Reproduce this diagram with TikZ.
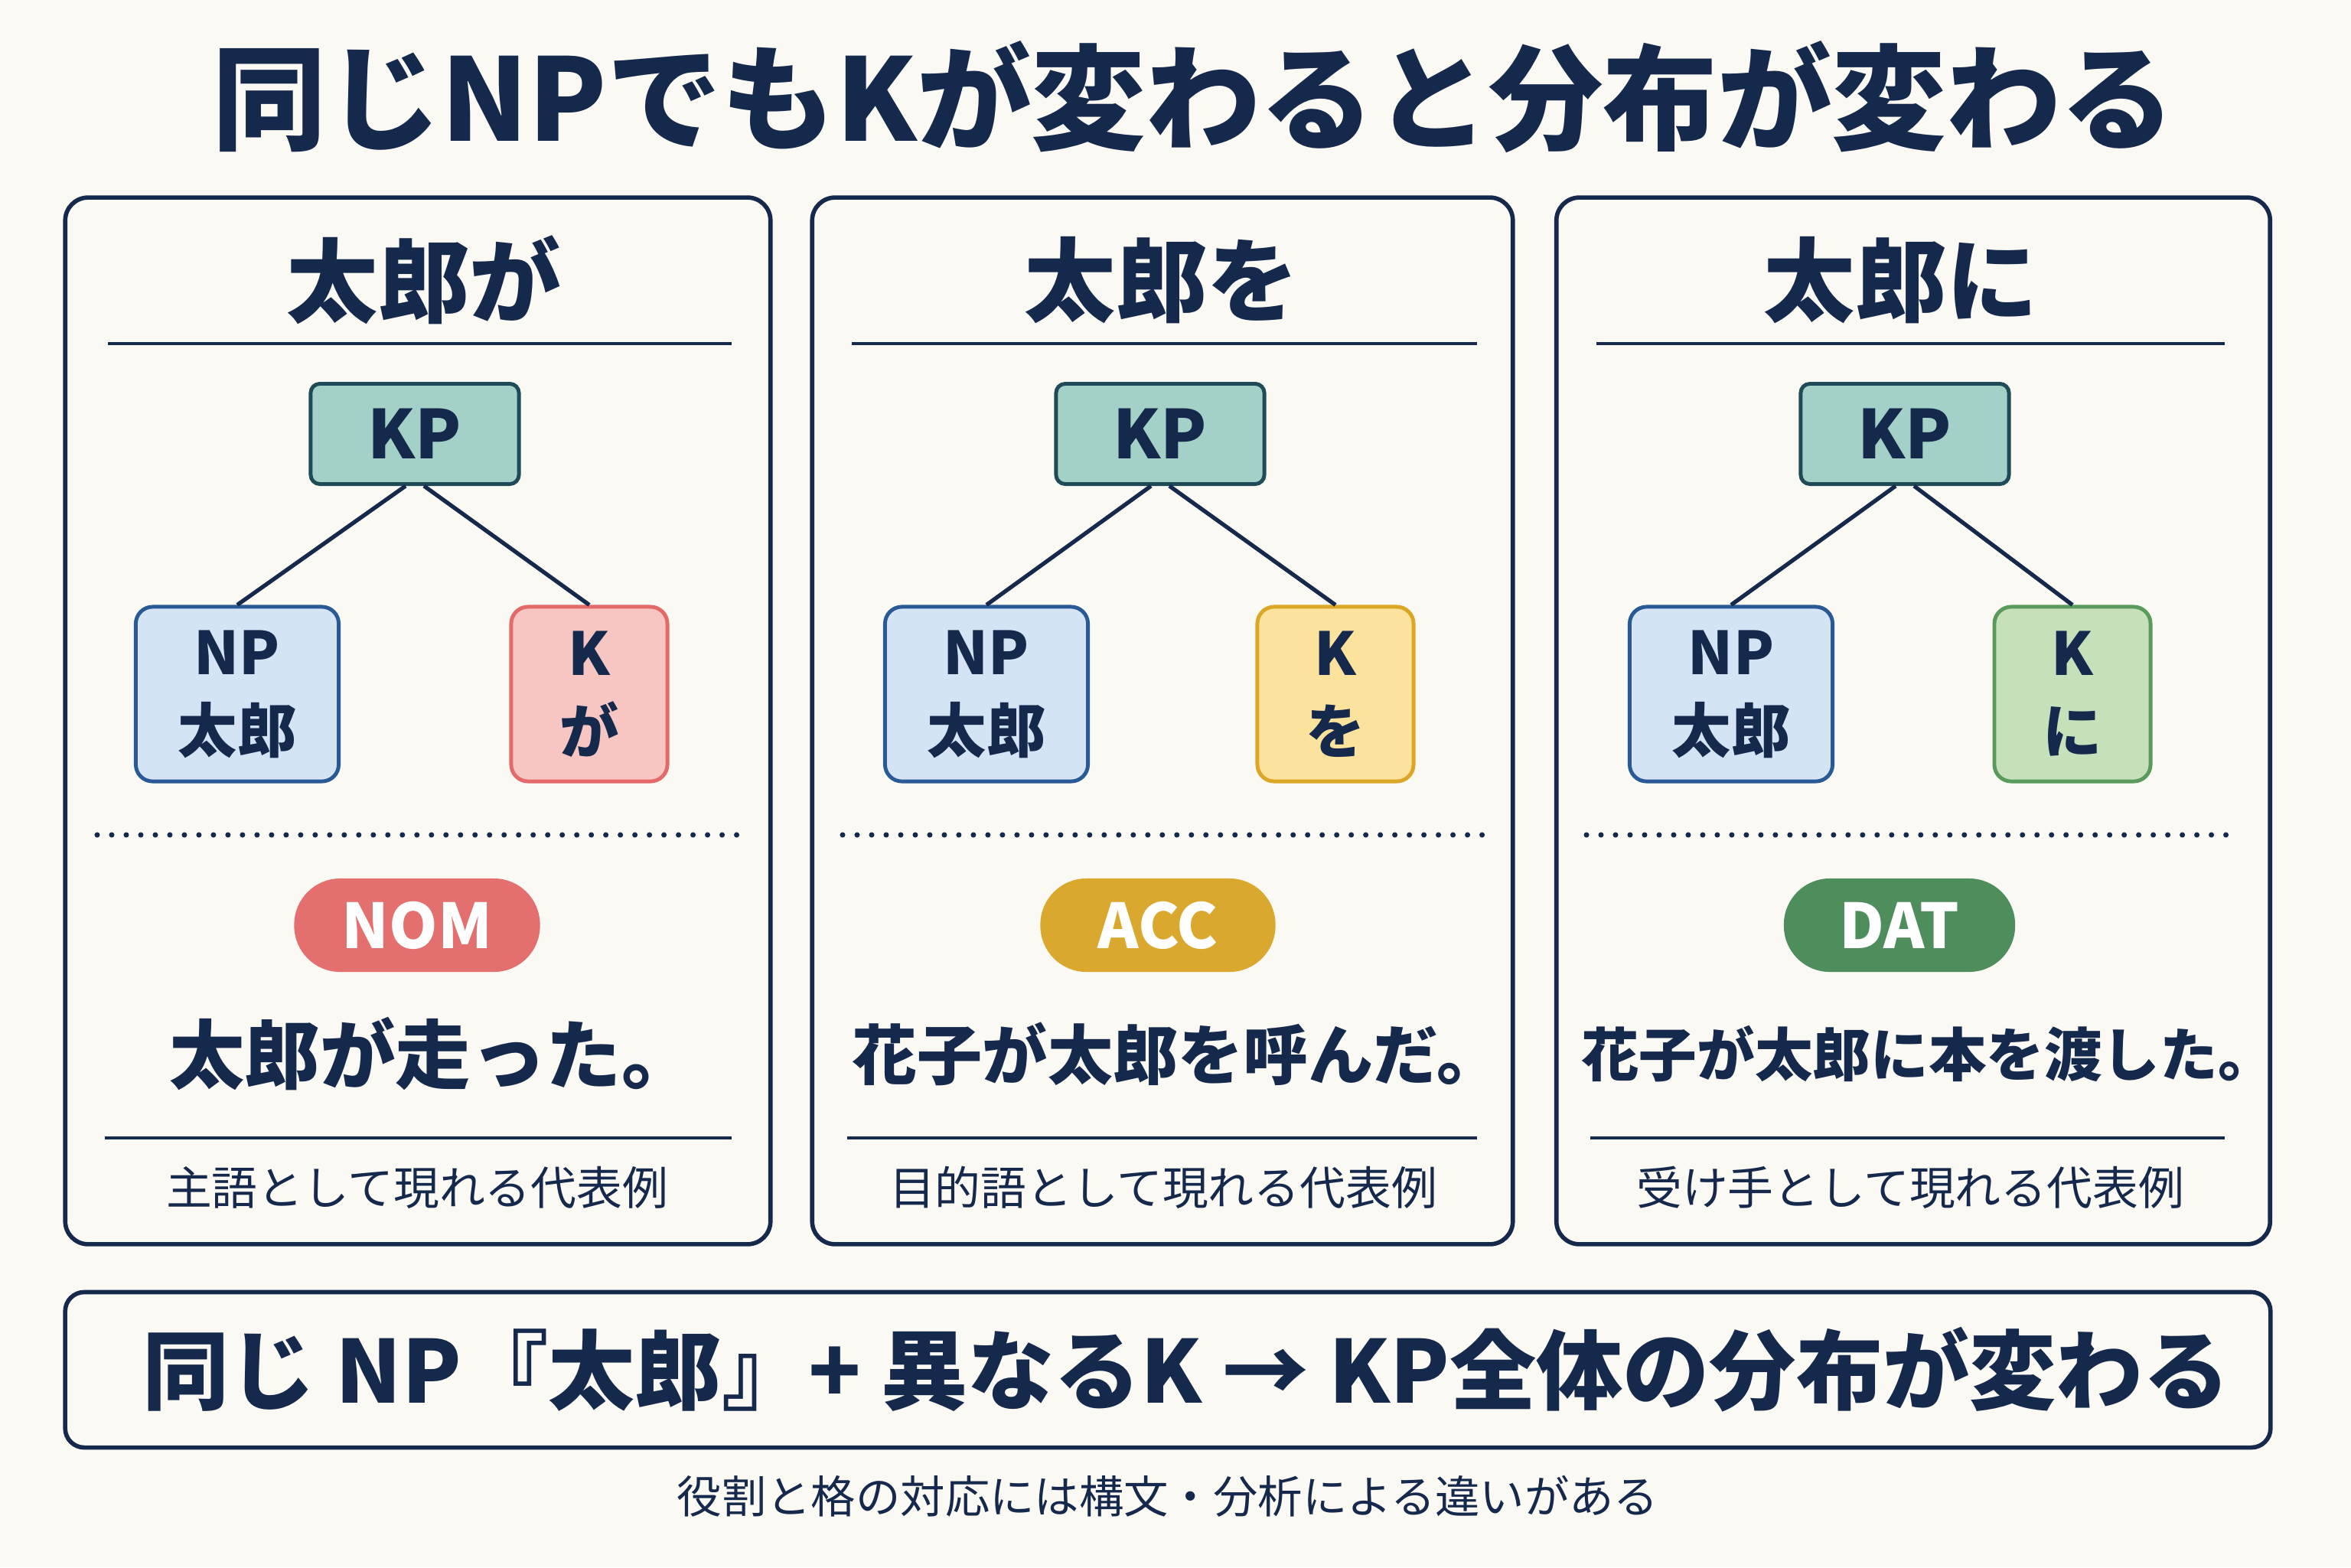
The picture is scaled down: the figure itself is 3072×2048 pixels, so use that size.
\documentclass[tikz,border=0pt]{standalone}
\usepackage{fontspec}
\setmainfont{Noto Sans CJK JP}
\usetikzlibrary{positioning}

\definecolor{navy}{HTML}{15294D}
\definecolor{paper}{HTML}{FBF9F3}
\definecolor{kpfill}{HTML}{A3D1C8}
\definecolor{kpline}{HTML}{1F4B58}
\definecolor{npfill}{HTML}{D4E4F5}
\definecolor{npline}{HTML}{2A5A95}
\definecolor{nomfill}{HTML}{F7C6C2}
\definecolor{nomline}{HTML}{E36A68}
\definecolor{nomtag}{HTML}{E46F6F}
\definecolor{accfill}{HTML}{FCE39D}
\definecolor{accline}{HTML}{DCA626}
\definecolor{acctag}{HTML}{DAA82E}
\definecolor{datfill}{HTML}{C6E0BA}
\definecolor{datline}{HTML}{5A9A5C}
\definecolor{dattag}{HTML}{4E8D5C}

\begin{document}
\begin{tikzpicture}[
    x=0.01cm, y=-0.01cm,
    panel/.style={draw=navy, line width=1.6pt, rounded corners=0.3cm, fill=paper},
    head/.style={text=navy, font=\fontsize{34}{38}\selectfont\bfseries, inner sep=0pt},
    kpbox/.style={draw=kpline, fill=kpfill, line width=1.4pt, rounded corners=0.12cm,
        minimum width=2.72cm, minimum height=1.31cm, text=navy, font=\fontsize{25}{30}\selectfont\bfseries},
    leaf/.style={line width=1.4pt, rounded corners=0.22cm, minimum height=2.28cm, align=center,
        text=navy, font=\fontsize{22}{29}\selectfont\bfseries},
    npbox/.style={leaf, draw=npline, fill=npfill, minimum width=2.65cm},
    kbox/.style={leaf, minimum width=2.04cm},
    branch/.style={draw=navy, line width=1.5pt},
    rule/.style={draw=navy, line width=1.1pt},
    dots/.style={draw=navy, line width=2pt, line cap=round, dash pattern=on 0pt off 5.4pt},
    tag/.style={rounded corners=0.6cm, minimum height=1.22cm, text=white,
        font=\fontsize{23}{27}\selectfont\bfseries},
    sentence/.style={text=navy, inner sep=0pt},
    caption/.style={text=navy, inner sep=0pt, font=\fontsize{17}{20}\selectfont}
]
    \fill[paper] (0,0) rectangle (3072,2048);
    \useasboundingbox (0,0) rectangle (3072,2048);

    \node[text=navy, font=\fontsize{42.5}{48}\selectfont\bfseries] (title) at (1560,127) {同じNPでもKが変わると分布が変わる};

    % three panels
    \node[panel, minimum width=9.21cm, minimum height=13.67cm] (p1) at (546,942) {};
    \node[panel, minimum width=9.15cm, minimum height=13.67cm] (p2) at (1519,942) {};
    \node[panel, minimum width=9.32cm, minimum height=13.67cm] (p3) at (2500,942) {};

    % ga / nominative
    \node[head] (h1) at (554,366) {太郎が};
    \draw[rule] (141,449) -- (956,449);
    \node[kpbox] (kp1) at (542,567) {KP};
    \node[npbox] (np1) at (310,907) {NP\\太郎};
    \node[kbox, draw=nomline, fill=nomfill] (k1) at (770,907) {K\\が};
    \draw[branch] ([xshift=-0.12cm]kp1.south) -- (np1.north);
    \draw[branch] ([xshift=0.12cm]kp1.south) -- (k1.north);
    \draw[dots] (127,1091) -- (964,1091);
    \node[tag, fill=nomtag, minimum width=3.21cm] (t1) at (545,1209) {NOM};
    \node[sentence, font=\fontsize{28}{31}\selectfont\bfseries] (s1) at (566,1377) {太郎が走った。};
    \draw[rule] (137,1487) -- (956,1487);
    \node[caption] (c1) at (545,1552) {主語として現れる代表例};

    % wo / accusative
    \node[head] (h2) at (1518,366) {太郎を};
    \draw[rule] (1113,449) -- (1930,449);
    \node[kpbox] (kp2) at (1516,567) {KP};
    \node[npbox] (np2) at (1289,907) {NP\\太郎};
    \node[kbox, draw=accline, fill=accfill] (k2) at (1745,907) {K\\を};
    \draw[branch] ([xshift=-0.12cm]kp2.south) -- (np2.north);
    \draw[branch] ([xshift=0.12cm]kp2.south) -- (k2.north);
    \draw[dots] (1101,1091) -- (1939,1091);
    \node[tag, fill=acctag, minimum width=3.07cm] (t2) at (1513,1209) {ACC};
    \node[sentence, font=\fontsize{24.2}{28}\selectfont\bfseries] (s2) at (1538,1377) {花子が太郎を呼んだ。};
    \draw[rule] (1107,1487) -- (1930,1487);
    \node[caption] (c2) at (1520,1552) {目的語として現れる代表例};

    % ni / dative
    \node[head] (h3) at (2484,366) {太郎に};
    \draw[rule] (2086,449) -- (2907,449);
    \node[kpbox] (kp3) at (2489,567) {KP};
    \node[npbox] (np3) at (2262,907) {NP\\太郎};
    \node[kbox, draw=datline, fill=datfill] (k3) at (2708,907) {K\\に};
    \draw[branch] ([xshift=-0.12cm]kp3.south) -- (np3.north);
    \draw[branch] ([xshift=0.12cm]kp3.south) -- (k3.north);
    \draw[dots] (2073,1091) -- (2911,1091);
    \node[tag, fill=dattag, minimum width=3.02cm] (t3) at (2482,1209) {DAT};
    \node[sentence, font=\fontsize{21.5}{25}\selectfont\bfseries] (s3) at (2520,1377) {花子が太郎に本を渡した。};
    \draw[rule] (2078,1487) -- (2907,1487);
    \node[caption] (c3) at (2496,1552) {受け手として現れる代表例};

    % summary and note
    \node[panel, rounded corners=0.25cm, minimum width=28.8cm, minimum height=2.03cm] (sum) at (1526,1790) {};
    \node[text=navy, font=\fontsize{32.2}{36}\selectfont\bfseries] (sumtext) at (1550,1790)
        {同じ NP『太郎』+ 異なるK → KP全体の分布が変わる};
    \node[caption, font=\fontsize{16.6}{20}\selectfont, below=0.33cm of sum] (note)
        {役割と格の対応には構文・分析による違いがある};
\end{tikzpicture}
\end{document}
